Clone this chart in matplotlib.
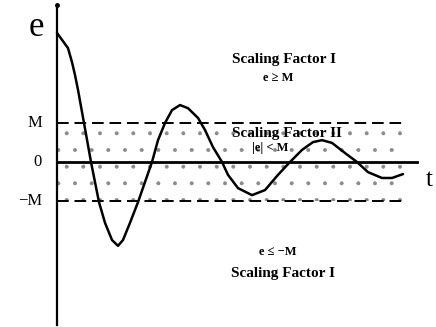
import matplotlib
matplotlib.use("Agg")
import matplotlib.pyplot as plt

# Error signal e(t), in units of M (t in arbitrary units)
t_vals = [0.0, 1.1, 1.5, 1.8, 2.1, 2.7, 3.4, 4.2, 4.8, 5.5, 6.1, 6.6, 7.3, 8.1,
          9.5, 10.1, 10.8, 11.5, 12.3, 13.1, 14.1, 14.8, 15.6,
          16.5, 17.1, 18.1, 19.5, 20.8, 22.1,
          23.3, 24.5, 25.6, 26.5, 27.5, 28.8,
          30.0, 31.1, 32.5, 33.5, 34.6]
e_vals = [3.31, 2.92, 2.56, 2.23, 1.85, 1.0, 0.0, -1.03, -1.56, -2.0, -2.15, -2.0, -1.56, -1.03,
          0.0, 0.56, 1.0, 1.33, 1.46, 1.38, 1.13, 0.82, 0.38,
          0.0, -0.33, -0.67, -0.85, -0.72, -0.33,
          0.0, 0.31, 0.51, 0.56, 0.49, 0.23,
          0.0, -0.26, -0.41, -0.41, -0.31]

M_level = 1.0
t_end_axis = 36.0
t_end_band = 34.6

y_ticks = [M_level, 0.0, -M_level]
y_ticklabels = ["M", "0", "\u2212M"]

plt.rcParams["hatch.linewidth"] = 0.4

fig = plt.figure(figsize=(4.36, 3.27), dpi=100)
ax = fig.add_axes([0, 0, 1, 1])
ax.set_xlim(-5.7, 37.9)
ax.set_ylim(-4.231, 4.154)
ax.axis("off")

serif = ["Liberation Serif", "DejaVu Serif"]

# dotted band between -M and M
ax.fill_between([0, t_end_band], -M_level, M_level, facecolor="none",
                edgecolor="#8a8a8a", hatch=".", linewidth=0)

# axes lines
ax.plot([0, 0], [-4.18, 4.03], color="black", lw=1.6)
ax.plot([0], [4.03], "o", color="black", ms=2.5)
ax.plot([0, t_end_axis], [0, 0], color="black", lw=2.0)

# dashed M levels
for lvl in (M_level, -M_level):
    ax.plot([0, t_end_band], [lvl, lvl], color="black", lw=1.4,
            dashes=(6, 3))

# curve
ax.plot(t_vals, e_vals, color="black", lw=1.8, solid_joinstyle="round",
        solid_capstyle="round")

# tick labels
for yv, lab in zip(y_ticks, y_ticklabels):
    ax.text(-1.5, yv, lab, ha="right", va="center", fontsize=12,
            family=serif)

ax.text(-2.1, 3.45, "e", ha="center", va="center", fontsize=25, family=serif)
ax.text(37.2, -0.47, "t", ha="center", va="center", fontsize=18, family=serif)

lab_kw = dict(ha="center", va="center", family=serif, fontweight="bold")
ax.text(22.7, 2.64, "Scaling Factor I", fontsize=11, **lab_kw)
ax.text(22.1, 2.15, "e \u2265 M", fontsize=9, **lab_kw)
ax.text(23.0, 0.74, "Scaling Factor II", fontsize=11, **lab_kw)
ax.text(21.3, 0.36, "|e| < M", fontsize=9, **lab_kw)
ax.text(22.1, -2.31, "e \u2264 \u2212M", fontsize=9, **lab_kw)
ax.text(22.6, -2.85, "Scaling Factor I", fontsize=11, **lab_kw)

fig.savefig("out.png", dpi=100)
